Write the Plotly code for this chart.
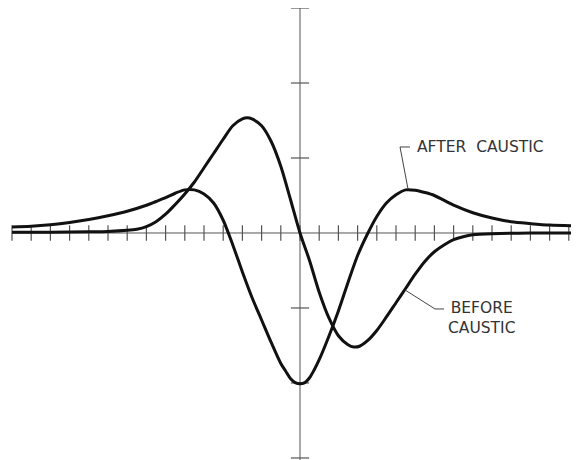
import plotly.graph_objects as go

# Pulse shapes (x in tick units, y in tick units)
before_x = [-15, -13, -11, -10, -9, -8.5, -8, -7.5, -7, -6.5, -6, -5.5, -5, -4.5, -4,
            -3.5, -3, -2.75, -2.5, -2, -1.5, -1, -0.5, 0, 0.5, 1, 1.5, 2, 2.5, 2.8, 3.1,
            3.5, 4, 4.5, 5, 5.5, 6, 6.5, 7, 7.5, 8, 8.5, 9, 10, 12, 14.6]
before_y = [0.01, 0.01, 0.015, 0.02, 0.035, 0.05, 0.085, 0.15, 0.25, 0.38, 0.52, 0.68, 0.87,
            1.06, 1.25, 1.43, 1.52, 1.535, 1.52, 1.43, 1.22, 0.89, 0.45, 0.0, -0.37, -0.79,
            -1.13, -1.37, -1.49, -1.52, -1.51, -1.44, -1.30, -1.12, -0.93, -0.74, -0.55,
            -0.38, -0.25, -0.16, -0.09, -0.05, -0.025, -0.01, 0.0, 0.0]

after_x = [-15, -14, -13, -12, -11, -10, -9, -8, -7.5, -7, -6.5, -6, -5.5, -5, -4.5, -4,
           -3.5, -3, -2.5, -2, -1.5, -1, -0.75, -0.5, -0.25, 0, 0.25, 0.5, 0.75, 1, 1.5,
           2, 2.5, 3, 3.5, 4, 4.5, 5, 5.5, 6, 6.5, 7, 8, 9, 10, 11, 12, 13, 14.6]
after_y = [0.08, 0.09, 0.11, 0.14, 0.18, 0.23, 0.29, 0.37, 0.42, 0.47, 0.53, 0.575, 0.575,
           0.52, 0.40, 0.17, -0.16, -0.52, -0.86, -1.16, -1.46, -1.74, -1.84, -1.94, -1.995,
           -2.01, -1.995, -1.93, -1.82, -1.69, -1.38, -1.04, -0.66, -0.30, -0.02, 0.22,
           0.40, 0.51, 0.575, 0.57, 0.54, 0.50, 0.37, 0.27, 0.20, 0.15, 0.125, 0.105, 0.093]

x_ticks = list(range(-15, 15))
y_ticks = [-3, -2, -1, 1, 2, 3]

axis_col = '#555555'
ink = '#111111'

fig = go.Figure()

# axes
fig.add_trace(go.Scatter(x=[-15, 14.6], y=[0, 0], mode='lines',
                         line=dict(color=axis_col, width=1), hoverinfo='skip'))
fig.add_trace(go.Scatter(x=[0, 0], y=[-3.1, 3.0], mode='lines',
                         line=dict(color=axis_col, width=1), hoverinfo='skip'))
fig.add_trace(go.Scatter(x=x_ticks, y=[0] * len(x_ticks), mode='markers',
                         marker=dict(symbol='line-ns', size=11,
                                     line=dict(color=axis_col, width=1.2)),
                         cliponaxis=False, hoverinfo='skip'))
fig.add_trace(go.Scatter(x=[0] * len(y_ticks), y=y_ticks, mode='markers',
                         marker=dict(symbol='line-ew', size=13,
                                     line=dict(color=axis_col, width=1.2)),
                         cliponaxis=False, hoverinfo='skip'))

# the two pulses
fig.add_trace(go.Scatter(x=before_x, y=before_y, mode='lines', name='BEFORE CAUSTIC',
                         line=dict(color=ink, width=3, shape='spline', smoothing=0.8)))
fig.add_trace(go.Scatter(x=after_x, y=after_y, mode='lines', name='AFTER CAUSTIC',
                         line=dict(color=ink, width=3, shape='spline', smoothing=0.8)))

# leader lines
lead = dict(color='#444444', width=1)
fig.add_shape(type='line', x0=5.21, y0=1.147, x1=5.73, y1=1.147, line=lead)
fig.add_shape(type='line', x0=5.21, y0=1.147, x1=5.625, y1=0.587, line=lead)
fig.add_shape(type='line', x0=5.47, y0=-0.76, x1=7.03, y1=-1.013, line=lead)
fig.add_shape(type='line', x0=7.03, y0=-1.013, x1=7.5, y1=-1.013, line=lead)

lab_font = dict(family='DejaVu Sans', size=15.5, color='#333333')
fig.add_annotation(x=5.99, y=1.147, text='AFTER\u00a0\u00a0CAUSTIC', showarrow=False,
                   xanchor='left', yanchor='middle', font=lab_font)
fig.add_annotation(x=9.47, y=-1.13, text='BEFORE<br>CAUSTIC', showarrow=False,
                   xanchor='center', yanchor='middle', align='center', font=lab_font)

# the page body has an 8px margin, so the figure covers page pixels 8..579 / 8..460
fig.update_xaxes(range=[-15.208, 14.531], visible=False)
fig.update_yaxes(range=[-3.027, 3.0], visible=False)
fig.update_layout(
    width=571, height=452,
    margin=dict(l=0, r=0, t=0, b=0),
    showlegend=False,
    plot_bgcolor='white',
    paper_bgcolor='white',
)

fig.write_html("out.html")
